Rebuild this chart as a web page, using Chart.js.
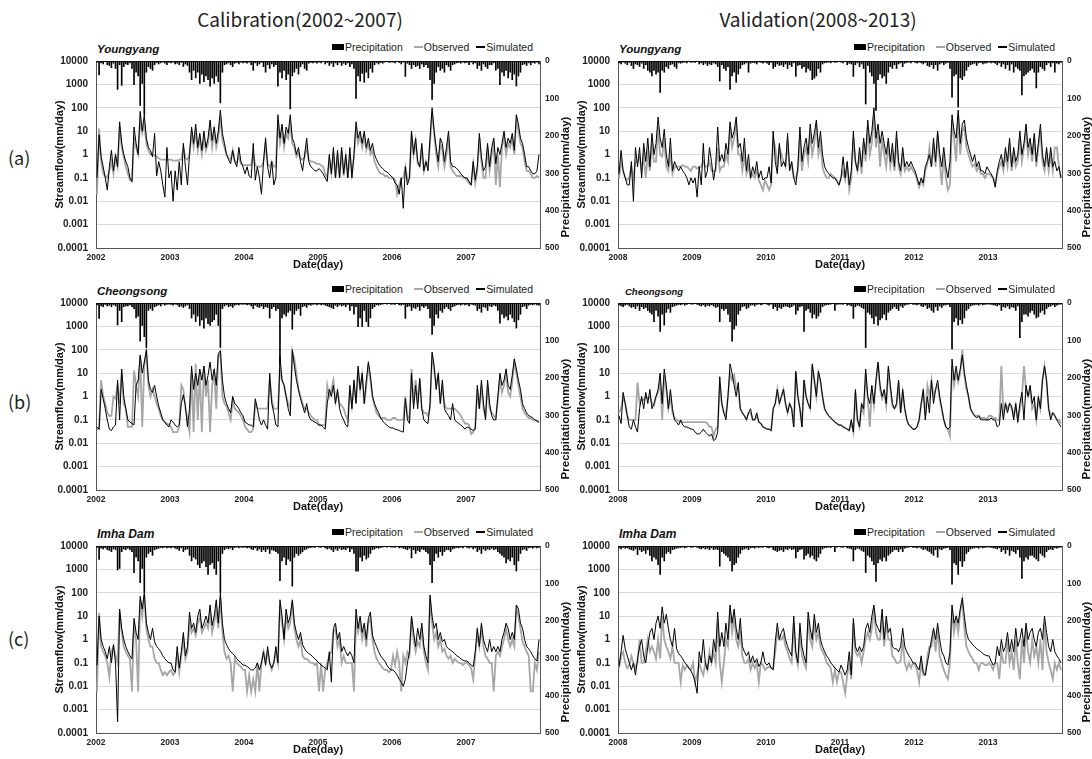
<!DOCTYPE html>
<html><head><meta charset="utf-8">
<script src="https://cdn.jsdelivr.net/npm/chart.js@4.4.1/dist/chart.umd.min.js"></script>
<style>
body{margin:0;width:1092px;height:759px;background:#fff;position:relative;overflow:hidden;font-family:"Liberation Sans",Arial,sans-serif}
.abs{position:absolute;white-space:nowrap}
.hdr{font-family:"Noto Sans CJK KR","Noto Sans",sans-serif;font-size:19px;color:#222;transform:translate(-50%,-50%)}
.lab{font-family:"Noto Sans CJK KR","Noto Sans",sans-serif;font-size:18px;color:#222;transform:translateY(-50%)}
.stn{font-weight:bold;font-style:italic;color:#111;transform:translateY(-50%)}
.leg{font-size:10.5px;color:#222;transform:translateY(-50%);display:flex;align-items:center}
.leg .box{display:inline-block;width:12px;height:6px;background:#000;margin-right:1px}
.leg .ln{display:inline-block;width:9px;margin-right:1px}
canvas{position:absolute}
</style></head><body>
<script>
// ---------- text ----------
const PERIOD_TITLES = ['Calibration(2002~2007)', 'Validation(2008~2013)'];
const ROW_LABELS = ['(a)', '(b)', '(c)'];
const STATIONS = ['Youngyang', 'Cheongsong', 'Imha Dam'];
const SERIES_NAMES = ['Precipitation', 'Observed', 'Simulated'];
const Y_TITLE = 'Streamflow(mm/day)';
const Y1_TITLE = 'Precipitation(mm/day)';
const X_TITLE = 'Date(day)';
// ---------- ticks ----------
const YEARS_CAL = [2002, 2003, 2004, 2005, 2006, 2007];
const YEARS_VAL = [2008, 2009, 2010, 2011, 2012, 2013];
const Y_TICKS = [0.0001, 0.001, 0.01, 0.1, 1, 10, 100, 1000, 10000];
const Y_LABELS = ['0.0001', '0.001', '0.01', '0.1', '1', '10', '100', '1000', '10000'];
const P_TICKS = [0, 100, 200, 300, 400, 500];

// ---------- data: one row per year, 36 ten-day values (mm/day) ----------
// Youngyang, calibration
const SIM_YY_CAL = [
[0.1,7,0.8, 0.3,0.1,0.03, 0.3,1.5,0.2, 1,0.3,25, 3,1,0.5, 0.3,0.1,0.07, 15,3,1, 70,10,50, 5,2,1.5, 0.8,8,0.12, 0.5,0.2,0.05, 0.015,2,0.1],
[0.2,0.01,0.2, 0.03,0.5,0.05, 3,0.3,0.05, 1,15,3, 20,2,8, 1.5,10,2, 5,30,4, 15,3,10, 80,8,3, 1,0.6,0.4, 1.5,0.5,0.3, 2,0.5,0.3],
[0.15,0.3,0.12, 0.1,3,0.08, 0.3,0.1,0.02, 0.5,5,0.3, 0.1,0.5,0.05, 0.1,50,5, 20,3,15, 8,50,5, 3,1,2, 0.5,0.2,1, 5,0.5,0.3, 0.25,0.2,0.2],
[0.25,0.2,0.15, 0.1,0.07,1, 0.15,2,0.1, 1.5,0.1,2, 0.15,1,0.1, 2,0.1,1, 25,5,10, 3,10,2, 5,1.5,3, 1,0.6,0.4, 0.3,0.25,0.2, 0.18,0.15,0.12],
[0.1,0.06,0.05, 0.02,0.1,0.005, 0.3,0.05,0.1, 10,1,5, 0.5,0.3,3, 0.2,0.5,0.2, 5,100,10, 2,0.5,5, 3,0.5,2, 10,0.5,0.3, 0.3,0.25,0.2, 0.15,0.12,0.1],
[0.1,0.07,0.05, 0.5,0.08,0.3, 8,0.8,0.2, 0.3,3,0.3, 2,5,0.4, 2,1,3, 10,2,5, 3,8,1.5, 50,20,5, 3,1,0.3, 0.3,0.2,0.15, 0.15,0.2,1]];
const OBS_YY_CAL = [
[0.02,13,0.5, 0.15,0.12,0.1, 0.2,0.5,0.15, 0.8,0.3,15, 2,0.8,0.3, 0.15,0.08,0.07, 5,2,1, 30,8,20, 3,1.5,1, 1,0.9,0.8, 0.7,0.6,0.6, 0.6,0.6,0.6],
[0.6,0.55,0.55, 0.55,0.6,0.6, 2,0.7,0.6, 1,8,2, 10,1.5,5, 1,5,1.5, 3,15,2, 10,2,5, 40,4,2, 1,0.7,0.6, 1.5,0.5,0.45, 0.8,0.4,0.35],
[0.35,0.35,0.35, 0.35,1,0.35, 0.3,0.3,0.3, 0.5,3,0.4, 0.3,0.5,0.3, 0.3,30,3, 10,2,8, 5,20,3, 2,0.8,1.2, 0.7,0.6,0.8, 2,0.6,0.5, 0.5,0.45,0.4],
[0.4,0.35,0.3, 0.15,0.1,0.6, 0.15,1.2,0.1, 1,0.1,1.5, 0.12,0.8,0.1, 1,0.15,0.8, 15,3,6, 2,6,1.5, 3,1,1.5, 0.5,0.3,0.2, 0.15,0.15,0.12, 0.12,0.1,0.1],
[0.1,0.08,0.02, 0.05,0.1,0.1, 0.3,0.08,0.1, 8,1,4, 0.4,0.3,2, 0.2,0.5,0.3, 3,70,8, 1,0.3,3, 1.5,0.3,1, 5,0.3,0.2, 0.15,0.12,0.12, 0.12,0.1,0.1],
[0.08,0.06,0.05, 0.4,0.06,0.2, 5,0.5,0.1, 0.1,2,0.2, 1,3,0.05, 1,0.04,2, 6,1,3, 2,5,1, 30,10,3, 2,0.5,0.2, 0.2,0.15,0.1, 0.1,0.12,0.1]];
const PRE_YY_CAL = [
[3,37,5, 8,2,10, 12,18,6, 20,76,10, 65,15,8, 10,5,20, 63,30,40, 119,60,143, 30,15,20, 25,10,5, 8,5,3, 6,10,4],
[5,3,8, 6,10,4, 15,8,12, 30,50,25, 45,30,60, 35,55,40, 50,67,45, 60,40,55, 112,30,10, 8,5,10, 15,6,4, 8,3,5],
[4,6,3, 10,25,5, 12,8,4, 15,30,10, 20,8,15, 10,67,30, 45,25,50, 35,128,40, 30,20,35, 15,8,20, 25,6,4, 5,3,6],
[3,5,2, 8,4,12, 6,15,5, 10,4,12, 6,10,5, 15,8,20, 100,40,54, 33,57,30, 45,20,30, 10,5,8, 4,6,3, 2,4,3],
[3,5,2, 4,8,3, 41,6,10, 20,10,15, 12,20,8, 15,10,18, 50,103,60, 30,15,25, 20,30,10, 15,25,10, 8,5,4, 6,3,5],
[4,10,3, 8,5,20, 12,25,8, 15,20,10, 10,5,25, 20,63,30, 40,25,45, 30,50,35, 67,40,30, 10,8,12, 5,10,4, 6,3,8]];
// Youngyang, validation
const SIM_YY_VAL = [
[0.15,1.5,0.2, 0.1,0.05,0.05, 0.5,0.01,2, 0.3,2,0.1, 3,0.5,5, 0.3,8,1, 3,40,5, 2,12,1, 0.3,5,0.2, 0.5,0.3,0.2, 0.3,0.2,0.15, 0.1,0.05,0.1],
[0.06,0.1,0.015, 0.3,0.05,3, 0.1,0.2,2, 0.5,0.08,0.3, 15,0.5,1, 0.5,3,1, 25,5,10, 40,2,3, 0.5,5,0.2, 1,0.1,0.3, 0.15,0.5,0.1, 0.2,0.08,0.1],
[0.1,0.3,0.06, 10,0.5,0.15, 3,0.3,0.5, 0.3,8,0.2, 0.5,0.1,0.05, 0.3,15,0.5, 2,5,1, 20,3,8, 30,2,10, 1,0.3,0.2, 0.15,0.12,0.1, 0.1,0.07,0.05],
[0.1,0.8,0.1, 0.5,0.05,0.2, 10,0.5,0.2, 2,0.3,5, 1,30,3, 10,100,5, 20,3,10, 3,1,5, 0.5,3,0.3, 10,0.5,0.2, 2,0.3,0.5, 0.3,0.5,0.3],
[0.2,0.1,0.05, 0.1,0.06,0.3, 0.5,1,0.3, 5,0.5,10, 1,0.3,2, 0.3,0.1,0.5, 50,10,5, 80,3,20, 30,5,2, 1,0.5,1, 0.3,0.5,0.2, 0.2,0.15,0.3],
[0.2,0.15,0.1, 0.04,0.2,0.5, 1,0.3,2, 0.5,5,0.3, 2,0.5,1, 10,1,3, 20,2,5, 1,8,0.5, 3,20,1, 0.3,2,0.3, 2,0.3,0.5, 0.2,0.3,0.1]];
const OBS_YY_VAL = [
[0.1,0.5,0.2, 0.1,0.08,0.1, 0.3,0.1,0.5, 0.5,0.8,0.2, 1,0.1,1, 0.2,3,0.5, 0.5,15,1, 0.8,5,0.3, 0.2,1,0.15, 0.3,0.3,0.3, 0.3,0.35,0.3, 0.3,0.25,0.2],
[0.3,0.3,0.25, 0.3,0.3,0.5, 0.3,0.3,0.5, 0.2,0.2,0.2, 2,0.2,0.3, 0.3,1,0.5, 15,2,5, 20,1,1, 0.2,1,0.15, 0.3,0.1,0.15, 0.1,0.2,0.08, 0.05,0.03,0.08],
[0.05,0.03,0.05, 5,2,0.3, 2,1,0.5, 0.3,4,0.3, 0.4,0.1,0.1, 0.2,5,0.2, 1,2,0.5, 8,1,3, 20,1,3, 0.3,0.15,0.1, 0.1,0.15,0.12, 0.1,0.08,0.05],
[0.1,0.2,0.08, 0.3,0.03,0.1, 5,0.5,0.2, 1,0.15,3, 0.5,15,1, 3,40,2, 10,0.3,5, 1,0.3,3, 0.3,1,0.2, 5,0.3,0.15, 1,0.2,0.3, 0.2,0.3,0.2],
[0.15,0.08,0.04, 0.08,0.05,0.2, 0.4,2,0.3, 3,0.3,8, 0.5,0.05,1, 0.1,0.03,0.05, 30,5,0.5, 50,1,10, 15,2,1, 0.5,0.3,0.4, 0.2,0.3,0.15, 0.15,0.1,0.15],
[0.15,0.12,0.1, 0.05,0.15,0.3, 0.5,0.2,1, 0.3,3,0.2, 1,0.3,0.5, 5,0.5,2, 10,1,3, 0.5,5,0.3, 2,10,0.5, 0.2,1,0.2, 1,0.2,2, 2,0.3,0.1]];
const PRE_YY_VAL = [
[5,8,3, 6,10,4, 12,20,8, 10,15,6, 20,10,25, 30,40,25, 35,30,84, 25,30,15, 20,10,8, 15,20,5, 6,4,3, 5,2,4],
[3,4,2, 8,5,10, 6,12,8, 10,5,8, 15,54,10, 20,25,15, 76,40,30, 57,35,20, 10,8,5, 30,6,4, 5,8,3, 4,6,3],
[6,10,4, 20,15,8, 12,10,15, 8,20,10, 15,5,41, 12,10,20, 15,30,20, 25,50,46, 40,20,30, 8,5,4, 3,5,2, 4,3,2],
[3,5,2, 10,6,8, 41,10,5, 15,8,20, 115,12,30, 40,60,132, 50,35,45, 40,60,30, 15,20,10, 20,8,5, 15,6,4, 3,5,2],
[4,6,3, 5,8,4, 12,15,10, 20,10,25, 8,5,10, 6,4,20, 97,40,35, 123,45,50, 40,25,15, 10,8,6, 12,5,4, 8,6,5],
[3,5,4, 6,10,5, 15,8,20, 10,25,8, 30,15,20, 25,91,40, 35,30,25, 20,30,72, 30,15,20, 25,10,5, 15,5,30, 6,8,4]];
// Cheongsong, calibration
const SIM_CS_CAL = [
[0.05,0.04,2, 0.8,0.3,0.1, 0.04,0.035,0.05, 0.06,5,0.1, 15,1,0.3, 0.1,0.08,0.07, 0.06,3,5, 60,10,30, 100,5,2, 1.5,3,1, 0.4,0.2,0.1, 0.08,0.06,0.05],
[0.1,0.08,0.06, 0.05,0.06,0.5, 1.2,0.4,0.05, 0.3,20,2, 10,3,15, 5,20,3, 8,30,5, 15,3,70, 90,5,1, 0.5,0.3,0.2, 1,0.5,0.4, 0.3,0.2,0.15],
[0.08,0.07,0.06, 0.06,0.05,0.8, 0.3,0.1,0.06, 0.1,0.06,0.04, 10,0.5,0.2, 0.06,0.05,50, 5,3,1, 0.3,0.15,100, 20,5,2, 0.8,0.4,0.2, 0.5,0.15,0.1, 0.09,0.08,0.07],
[0.06,0.06,0.05, 0.04,0.5,2, 1,3,0.5, 2,0.3,0.15, 0.1,0.06,0.05, 3,0.3,5, 0.5,20,2, 10,0.5,5, 30,8,1, 0.5,0.3,0.2, 0.12,0.09,0.07, 0.06,0.05,0.045],
[0.045,0.04,0.038, 0.035,0.032,0.03, 0.8,0.1,0.07, 10,0.3,3, 0.3,6,0.3, 0.1,0.08,0.07, 0.5,80,20, 2,10,0.5, 5,0.3,0.2, 0.15,0.1,0.5, 0.1,0.08,0.07, 0.06,0.05,0.04],
[0.05,0.045,0.04, 0.035,0.04,3, 0.3,5,0.5, 0.1,5,0.5, 0.15,0.1,0.1, 1,10,3, 5,15,3, 2,8,40, 15,5,2, 0.5,0.3,0.2, 0.15,0.14,0.12, 0.1,0.09,0.08]];
const OBS_CS_CAL = [
[0.04,0.04,5, 1,0.5,0.2, 0.15,0.15,1, 0.8,3,0.5, 10,0.5,0.3, 0.05,0.05,0.05, 13,3,1, 50,0.05,20, 80,3,1, 2,1,0.5, 0.3,0.15,0.1, 0.08,0.07,0.06],
[0.05,0.03,0.03, 0.03,0.05,3, 2,0.3,0.1, 0.03,10,0.03, 25,0.1,10, 0.03,20,1, 5,0.03,3, 10,0.3,50, 80,1,0.5, 0.4,0.2,0.1, 0.7,0.3,0.25, 0.2,0.15,0.1],
[0.05,0.04,0.03, 0.03,0.04,0.5, 0.3,0.3,0.3, 0.3,0.3,0.3, 5,0.8,0.3, 0.3,0.3,20, 5,3,1, 0.5,0.3,90, 40,10,2, 1,0.5,0.3, 0.3,0.2,0.15, 0.12,0.1,0.1],
[0.06,0.06,0.06, 0.06,3,1, 2,5,0.6, 1.5,0.5,0.4, 0.3,0.15,0.1, 2,0.4,3, 0.6,15,2, 8,0.5,3, 20,5,1, 0.4,0.2,0.15, 0.12,0.12,0.12, 0.1,0.1,0.1],
[0.12,0.12,0.1, 0.1,0.1,0.1, 1,0.15,0.1, 15,0.5,5, 0.5,5,0.3, 0.2,0.2,0.15, 0.3,60,15, 3,8,0.5, 3,0.5,0.3, 0.3,0.3,0.3, 0.3,0.25,0.2, 0.15,0.1,0.07],
[0.07,0.06,0.025, 0.03,0.05,2, 0.3,3,0.3, 0.15,3,0.3, 0.2,0.15,0.12, 0.8,5,1.5, 3,10,1.5, 1,4,30, 10,3,1, 0.3,0.2,0.15, 0.12,0.12,0.1, 0.1,0.09,0.08]];
const PRE_CS_CAL = [
[5,41,8, 10,4,8, 6,10,5, 8,59,20, 50,10,8, 8,5,10, 15,40,35, 102,60,90, 119,20,15, 20,10,8, 5,8,3, 6,4,3],
[4,6,3, 5,10,8, 12,8,5, 15,40,30, 50,35,60, 45,67,40, 55,60,50, 45,30,60, 119,15,8, 5,10,8, 12,6,4, 5,3,4],
[3,5,4, 8,15,6, 10,12,8, 15,10,12, 40,15,10, 20,15,165, 40,30,35, 25,20,70, 30,20,15, 33,10,8, 12,5,6, 4,3,5],
[3,5,4, 6,8,10, 12,15,6, 10,5,8, 6,10,4, 20,8,30, 10,63,40, 63,20,50, 63,40,15, 10,5,6, 4,3,2, 3,2,4],
[3,4,2, 5,6,4, 41,10,8, 20,12,15, 10,20,8, 12,8,15, 40,84,60, 30,40,20, 25,15,10, 15,20,10, 8,5,4, 6,3,5],
[4,8,3, 5,6,20, 15,25,10, 12,20,8, 10,6,8, 20,54,30, 40,35,45, 30,40,50, 67,45,30, 10,8,15, 6,4,5, 3,5,6]];
// Cheongsong, validation
const SIM_CS_VAL = [
[0.15,0.07,1.5, 0.5,0.15,0.05, 0.04,0.1,0.05, 0.03,0.3,1, 0.3,1.5,0.5, 2,0.3,0.5, 1,2,10, 0.5,15,3, 0.3,2,0.3, 0.1,0.08,0.06, 0.1,0.06,0.05, 0.05,0.045,0.04],
[0.04,0.03,0.025, 0.025,0.03,0.04, 0.03,0.025,0.02, 0.025,0.013,0.015, 0.03,7,0.5, 0.2,0.1,1, 25,10,3, 1,4,0.3, 0.2,0.15,0.1, 0.2,0.3,0.1, 0.1,0.2,0.08, 0.07,0.05,0.045],
[0.04,0.04,0.035, 0.3,0.5,2, 0.5,1,2, 0.5,0.2,0.5, 0.3,0.05,12, 1,0.3,0.05, 5,1,0.5, 0.3,25,5, 1,12,5, 1,0.3,0.2, 0.15,0.12,0.1, 0.08,0.07,0.06],
[0.06,0.05,0.045, 0.04,0.035,0.1, 0.03,2,0.1, 0.05,0.5,0.3, 15,1,0.5, 3,0.5,5, 30,3,1, 2,0.5,20, 3,0.5,0.3, 0.5,5,0.2, 2,0.3,0.1, 0.06,0.05,0.04],
[0.04,0.05,0.1, 0.5,2,0.1, 1,0.2,5, 0.5,2,5, 1,0.3,0.1, 0.05,0.04,0.05, 40,5,20, 5,15,60, 10,3,1, 0.3,0.2,0.15, 0.12,0.15,0.1, 0.1,0.1,0.1],
[0.1,0.12,0.1, 0.1,0.05,0.06, 0.5,0.1,0.5, 0.2,0.5,0.4, 0.1,0.5,0.08, 0.5,1.5,0.1, 3,1,3, 0.5,1,0.1, 1,0.3,5, 20,5,0.3, 0.1,0.2,0.15, 0.1,0.07,0.05]];
const OBS_CS_VAL = [
[0.2,0.3,1, 0.5,0.15,0.1, 0.1,0.1,0.1, 4,0.5,0.8, 0.7,1,0.8, 1,0.5,0.4, 1,1.5,5, 0.1,8,2, 0.3,1,0.2, 0.12,0.1,0.09, 0.08,0.08,0.08, 0.08,0.08,0.08],
[0.08,0.08,0.08, 0.08,0.08,0.08, 0.08,0.07,0.05, 0.05,0.02,0.04, 0.05,3,0.5, 0.2,0.15,1, 10,5,8, 2,2,0.3, 0.2,0.15,0.1, 0.2,0.2,0.1, 0.1,0.15,0.08, 0.07,0.05,0.045],
[0.04,0.04,0.035, 0.3,0.5,2, 0.5,1,2, 0.5,0.2,0.5, 0.3,0.05,10, 1,0.3,0.05, 5,1,0.5, 0.3,20,5, 1,10,4, 1,0.3,0.2, 0.15,0.12,0.1, 0.08,0.07,0.06],
[0.06,0.05,0.045, 0.04,0.035,0.08, 0.03,1.5,0.1, 0.05,0.4,0.2, 10,0.8,0.05, 2,0.4,4, 25,2,0.8, 1.5,0.4,15, 2,0.4,0.3, 0.4,4,0.2, 1.5,0.3,0.1, 0.06,0.05,0.04],
[0.04,0.05,0.1, 0.5,1.5,0.15, 3,1,5, 1,2,3, 0.8,0.3,0.1, 0.05,0.04,0.02, 20,3,10, 4,10,100, 8,2,1, 0.3,0.2,0.15, 0.15,0.15,0.12, 0.12,0.12,0.1],
[0.15,0.15,0.12, 0.12,0.1,0.1, 20,0.2,0.5, 0.3,0.5,0.3, 0.15,0.4,0.1, 0.3,1,20, 2,1,2, 0.3,0.5,0.1, 0.8,0.3,5, 20,4,0.3, 0.15,0.2,0.15, 0.1,0.1,0.07]];
const PRE_CS_VAL = [
[5,8,10, 6,4,8, 12,10,15, 8,20,10, 15,12,20, 25,30,50, 20,35,76, 30,59,25, 15,25,10, 8,6,4, 5,3,6, 4,2,3],
[3,2,4, 6,8,5, 10,6,8, 5,8,12, 10,50,15, 20,15,30, 50,102,70, 60,30,20, 10,8,15, 12,6,5, 8,4,3, 5,3,2],
[4,6,3, 15,10,20, 12,15,10, 8,10,12, 10,6,30, 20,10,8, 76,20,15, 25,40,30, 41,35,25, 10,6,5, 4,3,2, 20,4,3],
[3,4,2, 6,5,8, 41,10,6, 8,12,15, 119,25,30, 40,55,35, 59,45,40, 30,45,25, 20,15,10, 15,20,8, 12,6,4, 3,2,4],
[4,5,3, 8,10,6, 15,12,20, 25,10,20, 8,12,6, 5,4,10, 123,50,40, 59,45,55, 40,20,15, 8,6,5, 4,6,3, 5,4,3],
[3,4,5, 6,8,5, 20,10,12, 8,15,10, 12,20,8, 93,50,30, 30,35,25, 20,30,40, 37,25,20, 30,15,10, 8,5,10, 6,4,3]];
// Imha Dam, calibration
const SIM_IM_CAL = [
[0.08,10,1, 0.5,0.3,0.15, 0.5,0.1,0.6, 0.1,0.0003,20, 3,1,0.5, 0.3,0.2,0.15, 8,2,1, 70,20,100, 5,2,1, 3,0.8,0.5, 0.4,0.3,0.2, 0.15,0.12,0.1],
[0.1,0.05,0.04, 0.5,0.06,0.3, 2,0.2,0.5, 15,3,5, 2,10,20, 3,5,10, 5,30,4, 10,50,5, 100,5,1, 0.6,0.4,0.3, 0.25,0.2,0.15, 0.12,0.1,0.08],
[0.08,0.07,0.06, 0.05,0.05,0.06, 0.1,0.05,0.1, 0.3,0.08,0.5, 0.1,0.06,0.1, 0.5,0.1,50, 10,1,20, 5,10,50, 5,2,1, 2,0.6,0.4, 0.3,0.25,0.22, 0.18,0.15,0.12],
[0.1,0.08,0.07, 0.06,0.05,0.3, 0.015,3,5, 1,2,0.3, 0.5,0.3,0.2, 0.3,0.2,0.1, 20,3,10, 2,5,1, 8,15,1.5, 0.8,0.5,0.3, 0.2,0.15,0.12, 0.08,0.06,0.05],
[0.05,0.04,0.03, 0.02,0.015,0.01, 0.02,0.1,0.3, 10,2,0.5, 3,1,5, 0.5,0.2,0.1, 80,10,3, 5,1,2, 0.8,1,0.5, 0.4,0.35,0.3, 0.25,0.2,0.18, 0.15,0.13,0.12],
[0.12,0.1,0.08, 0.07,0.3,3, 0.5,5,1, 0.5,0.3,1, 0.3,0.5,0.3, 0.5,0.3,1, 2,5,3, 1,2,1, 30,20,5, 3,1,0.5, 0.4,0.3,0.2, 0.15,0.12,1]];
const OBS_IM_CAL = [
[0.006,14,0.5, 0.3,0.2,0.1, 0.025,0.3,0.5, 0.2,0.1,15, 2,0.5,0.3, 0.2,0.15,0.006, 5,1,0.006, 50,10,80, 3,1,0.5, 0.5,0.15,0.1, 0.1,0.05,0.03, 0.04,0.03,0.04],
[0.05,0.03,0.04, 0.3,0.04,0.2, 1,0.15,0.3, 5,2,3, 1.5,5,10, 2,3,5, 3,15,2, 5,20,3, 60,2,0.3, 0.15,0.2,0.1, 0.006,0.15,0.1, 0.08,0.07,0.05],
[0.05,0.006,0.03, 0.006,0.02,0.006, 0.1,0.006,0.1, 0.3,0.1,0.3, 0.1,0.05,0.1, 0.3,0.1,30, 5,1,10, 3,5,40, 3,1,0.5, 1,0.2,0.15, 0.15,0.12,0.1, 0.1,0.08,0.1],
[0.006,0.1,0.006, 0.05,0.1,0.2, 0.3,2,3, 0.5,1,0.1, 0.2,0.1,0.1, 0.1,0.1,0.006, 10,2,5, 1,3,0.5, 5,8,1, 0.3,0.15,0.1, 0.08,0.06,0.05, 0.05,0.04,0.05],
[0.2,0.08,0.3, 0.1,0.006,0.2, 0.1,0.3,0.2, 8,1,0.3, 0.8,0.5,3, 0.3,0.1,0.05, 60,5,1, 2,0.5,1, 0.3,0.4,0.2, 0.15,0.2,0.1, 0.15,0.12,0.1, 0.1,0.08,0.1],
[0.1,0.08,0.06, 0.02,0.2,2, 0.5,3,0.5, 0.2,0.15,0.1, 0.1,0.006,0.2, 0.3,0.2,0.5, 1,3,1, 0.5,1,0.5, 20,10,3, 0.8,0.5,0.3, 0.2,0.006,0.006, 0.1,0.05,0.3]];
const PRE_IM_CAL = [
[4,36,6, 8,5,10, 12,15,8, 10,64,60, 15,8,10, 6,10,15, 71,30,40, 98,60,124, 30,20,15, 25,10,8, 6,4,5, 3,5,4],
[5,3,6, 8,12,5, 15,10,8, 25,40,30, 35,50,58, 45,40,55, 76,50,45, 60,76,40, 124,20,10, 6,8,5, 10,4,3, 5,3,4],
[3,5,4, 8,10,5, 12,8,15, 10,15,8, 20,10,12, 15,20,93, 40,30,50, 35,40,107, 30,20,25, 20,15,10, 8,5,4, 3,4,2],
[3,4,2, 5,8,6, 10,15,8, 12,6,10, 8,10,5, 15,8,20, 67,67,30, 40,25,35, 30,20,10, 8,5,6, 4,3,2, 3,2,3],
[3,4,2, 5,4,6, 8,10,6, 32,10,20, 12,15,8, 10,15,20, 50,98,40, 20,30,15, 25,15,10, 10,15,8, 6,4,5, 3,5,2],
[4,6,3, 8,5,15, 10,20,8, 12,8,10, 6,10,8, 15,20,25, 30,45,35, 40,30,50, 67,40,20, 10,8,12, 5,4,6, 3,5,4]];
// Imha Dam, validation
const SIM_IM_VAL = [
[0.07,0.3,1.5, 0.4,0.2,0.1, 0.05,0.1,0.03, 0.15,0.5,1, 0.2,0.1,0.5, 2,3,1, 5,10,3, 25,5,12, 3,1,0.5, 3,0.4,0.25, 0.2,0.15,0.1, 0.08,0.06,0.045],
[0.03,0.015,0.005, 0.3,0.1,1, 0.1,0.05,0.2, 0.1,1,0.3, 15,0.5,2, 0.5,5,1, 30,5,20, 3,1,8, 0.5,0.3,0.2, 0.3,0.1,0.2, 0.1,0.15,0.07, 0.1,0.3,0.1],
[0.08,0.1,0.06, 0.05,0.8,5, 1,2,3, 1,0.5,0.3, 0.2,10,0.3, 0.1,5,0.5, 0.2,0.1,15, 3,1,12, 2,5,1, 0.5,0.3,0.2, 0.15,0.1,0.08, 0.06,0.05,0.04],
[0.08,0.05,0.03, 0.05,0.3,0.03, 8,0.5,0.3, 0.5,0.3,0.5, 3,5,2, 10,30,5, 3,2,20, 1,10,2, 3,0.5,0.4, 0.4,0.3,0.5, 3,0.5,0.3, 0.2,0.15,0.1],
[0.1,0.07,0.05, 0.2,0.04,0.03, 0.1,0.3,1, 3,1,5, 1,0.3,0.2, 0.1,0.08,0.3, 30,5,10, 5,20,60, 10,2,1, 0.8,0.6,0.5, 0.4,0.35,0.3, 0.25,0.22,0.2],
[0.2,0.12,0.08, 0.1,0.5,0.2, 1,0.3,0.5, 2,0.3,1, 0.3,3,0.5, 1,3,0.5, 5,1,2, 3,1,0.5, 2,3,1, 10,2,0.5, 0.3,1,0.3, 0.2,0.15,0.1]];
const OBS_IM_VAL = [
[0.06,0.2,0.3, 0.1,0.06,0.08, 0.2,0.1,0.06, 0.1,1,0.1, 0.1,0.3,1, 0.3,0.5,0.3, 0.15,1,0.15, 10,1,0.5, 0.3,0.15,0.5, 0.1,0.1,0.1, 0.015,0.08,0.05, 0.08,0.06,0.05],
[0.1,0.015,0.03, 0.1,0.05,0.03, 0.1,0.05,0.3, 0.1,0.3,0.1, 5,0.1,0.015, 0.1,1,0.5, 20,2,10, 1,0.5,2, 0.2,0.1,0.1, 0.15,0.05,0.1, 0.06,0.1,0.015, 0.1,0.08,0.05],
[0.06,0.07,0.06, 0.06,0.3,2, 1,1,1.5, 0.5,0.3,0.15, 0.1,5,0.2, 0.08,2,0.2, 0.1,0.06,8, 1,0.5,5, 1,2,0.5, 0.3,0.2,0.1, 0.08,0.06,0.015, 0.05,0.015,0.04],
[0.04,0.015,0.005, 0.03,0.1,0.02, 5,0.3,0.2, 0.3,0.1,0.3, 1,2,1, 3,20,2, 1,1,10, 0.5,5,1, 1,0.2,0.15, 0.1,0.1,0.12, 1,0.1,0.05, 0.1,0.06,0.1],
[0.08,0.05,0.015, 0.1,0.03,0.03, 0.2,0.5,0.5, 2,0.3,3, 0.2,0.1,0.05, 0.03,0.02,0.1, 20,2,8, 2,15,50, 3,0.5,0.3, 0.2,0.15,0.1, 0.1,0.05,0.1, 0.1,0.08,0.08],
[0.1,0.08,0.05, 0.1,0.1,0.02, 0.3,0.1,0.1, 1,0.1,0.3, 0.05,1,0.1, 0.02,1,0.1, 3,0.3,0.1, 1,0.2,0.5, 0.1,1,0.05, 5,0.3,0.1, 0.05,0.02,0.1, 0.05,0.1,0.05]];
const PRE_IM_VAL = [
[5,8,4, 6,5,8, 10,12,8, 23,10,15, 12,20,10, 25,40,30, 35,50,76, 30,40,20, 15,20,10, 8,6,5, 4,3,5, 3,2,4],
[3,2,4, 6,8,5, 8,6,10, 5,10,8, 10,54,15, 20,25,30, 40,67,50, 45,30,20, 10,8,6, 10,5,4, 6,3,4, 3,4,2],
[4,5,3, 10,12,15, 12,10,15, 8,10,6, 10,8,32, 15,10,8, 35,25,20, 30,25,35, 40,30,20, 8,5,4, 3,4,2, 15,3,2],
[3,4,2, 5,6,8, 40,10,6, 8,12,15, 71,25,30, 40,50,95, 45,35,40, 30,40,25, 20,15,10, 10,15,8, 15,6,4, 3,2,4],
[4,5,3, 6,10,8, 12,15,20, 25,10,30, 8,10,6, 5,4,10, 102,45,50, 76,40,55, 40,20,15, 8,6,5, 4,6,3, 5,4,3],
[3,4,5, 6,8,5, 15,10,20, 10,25,12, 15,20,10, 30,87,40, 30,35,25, 25,30,35, 40,20,25, 30,15,10, 8,10,5, 6,4,3]];

// ---------- layout (positions only) ----------
const PLOT_TOP = [55, 297, 540];
const PLOT_H = 193;
const PLOT_LEFT = [96, 618];
const PLOT_W = 444;
const LEFT_AXIS_W = 56;
const RIGHT_AXIS_W = [45, 30];
const TOP_PAD = 8, BOTTOM_AXIS_H = 24;

const PANELS = [
  {row:0, col:0, years:YEARS_CAL, sim:SIM_YY_CAL, obs:OBS_YY_CAL, pre:PRE_YY_CAL},
  {row:0, col:1, years:YEARS_VAL, sim:SIM_YY_VAL, obs:OBS_YY_VAL, pre:PRE_YY_VAL},
  {row:1, col:0, years:YEARS_CAL, sim:SIM_CS_CAL, obs:OBS_CS_CAL, pre:PRE_CS_CAL},
  {row:1, col:1, years:YEARS_VAL, sim:SIM_CS_VAL, obs:OBS_CS_VAL, pre:PRE_CS_VAL},
  {row:2, col:0, years:YEARS_CAL, sim:SIM_IM_CAL, obs:OBS_IM_CAL, pre:PRE_IM_CAL},
  {row:2, col:1, years:YEARS_VAL, sim:SIM_IM_VAL, obs:OBS_IM_VAL, pre:PRE_IM_VAL}
];

function addDiv(cls, text, css) {
  const d = document.createElement('div');
  d.className = 'abs ' + cls;
  if (text !== null) d.textContent = text;
  Object.assign(d.style, css);
  document.body.appendChild(d);
  return d;
}

// headers and row labels
addDiv('hdr', PERIOD_TITLES[0], {left: '300px', top: '18px'});
addDiv('hdr', PERIOD_TITLES[1], {left: '818px', top: '18px'});
const ROW_LABEL_Y = [157, 401, 638];
ROW_LABELS.forEach((t, i) => addDiv('lab', t, {left: '8px', top: ROW_LABEL_Y[i] + 'px'}));

function addLegend(x, y) {
  const d = addDiv('leg', null, {left: x + 'px', top: y + 'px'});
  d.innerHTML =
    '<span class="box"></span><span>' + SERIES_NAMES[0] + '</span>' +
    '<span class="ln" style="margin-left:11px;height:2px;background:#a6a6a6"></span><span>' + SERIES_NAMES[1] + '</span>' +
    '<span class="ln" style="margin-left:7px;height:1.5px;background:#000"></span><span>' + SERIES_NAMES[2] + '</span>';
}

const rightTitle = {
  id: 'rightTitle',
  afterDraw(chart, args, opts) {
    const {ctx, chartArea} = chart;
    ctx.save();
    ctx.font = 'bold 11.5px "Liberation Sans", Arial, sans-serif';
    ctx.fillStyle = '#111';
    ctx.textAlign = 'center';
    ctx.textBaseline = 'middle';
    ctx.translate(chartArea.right + opts.dx, chartArea.top + opts.dy);
    ctx.rotate(-Math.PI / 2);
    ctx.fillText(opts.text, 0, 0);
    ctx.restore();
  }
};
Chart.register(rightTitle);
Chart.defaults.font.family = '"Liberation Sans", Arial, sans-serif';

function toPts(rows, y0) {
  return rows.flatMap((row, yi) => row.map((v, i) => ({x: y0 + yi + (i + 0.5) / row.length, y: v})));
}

PANELS.forEach(p => {
  const top = PLOT_TOP[p.row];
  const left = PLOT_LEFT[p.col];
  const y0 = p.years[0];
  const stSmall = (p.row === 1 && p.col === 1);
  addDiv('stn', STATIONS[p.row], {
    left: (left + (stSmall ? 7 : 1)) + 'px', top: (top - 6) + 'px',
    fontSize: (p.row === 2 ? 12 : (stSmall ? 9.5 : 11.5)) + 'px'
  });
  addLegend(left + 236, top - 8);

  const cv = document.createElement('canvas');
  const cw = LEFT_AXIS_W + PLOT_W + RIGHT_AXIS_W[p.col];
  const ch = TOP_PAD + PLOT_H + BOTTOM_AXIS_H;
  cv.width = cw; cv.height = ch;
  cv.style.left = (left - LEFT_AXIS_W) + 'px';
  cv.style.top = (top - TOP_PAD) + 'px';
  document.body.appendChild(cv);

  new Chart(cv, {
    type: 'line',
    data: {
      datasets: [
        {label: SERIES_NAMES[2], data: toPts(p.sim, y0), borderColor: '#000', borderWidth: 1,
         pointRadius: 0, tension: 0, fill: false, yAxisID: 'y', order: 0},
        {type: 'bar', label: SERIES_NAMES[0], data: toPts(p.pre, y0), backgroundColor: '#000',
         borderWidth: 0, barThickness: 1, yAxisID: 'y1', order: 1},
        {label: SERIES_NAMES[1], data: toPts(p.obs, y0), borderColor: '#a6a6a6', borderWidth: 1.8,
         pointRadius: 0, tension: 0, fill: false, yAxisID: 'y', order: 2}
      ]
    },
    options: {
      responsive: false, animation: false, devicePixelRatio: 1,
      layout: {padding: {top: TOP_PAD, left: 0, right: 0, bottom: 0}},
      plugins: {
        legend: {display: false}, tooltip: {enabled: false},
        rightTitle: {text: Y1_TITLE, dx: p.col === 0 ? 26 : 25, dy: 116}
      },
      scales: {
        x: {
          type: 'linear', min: y0, max: y0 + 6, offset: false,
          afterBuildTicks: s => { s.ticks = p.years.map(v => ({value: v})); },
          ticks: {autoSkip: false, maxRotation: 0, padding: 5, color: '#222',
                  font: {size: 8.5, weight: 'bold'}, callback: v => String(v)},
          grid: {display: false, drawTicks: false},
          border: {display: true, color: '#555', width: 1},
          title: {display: true, text: X_TITLE, color: '#111', padding: 0,
                  font: {size: 11, weight: 'bold'}},
          afterFit: s => { s.height = BOTTOM_AXIS_H; }
        },
        y: {
          type: 'logarithmic', position: 'left', min: 0.0001, max: 10000,
          afterBuildTicks: s => { s.ticks = Y_TICKS.map(v => ({value: v})); },
          ticks: {autoSkip: false, padding: 8, color: '#222', font: {size: 10, weight: 'bold'},
                  callback: v => Y_LABELS[Y_TICKS.indexOf(v)]},
          grid: {drawTicks: false, lineWidth: 1,
                 color: c => (c.tick && c.tick.value === 10000) ? '#222' : '#d9d9d9'},
          border: {display: true, color: '#555', width: 1},
          title: {display: true, text: Y_TITLE, color: '#111', padding: {top: 13.4, bottom: 0},
                  font: {size: 11, weight: 'bold'}},
          afterFit: s => { s.width = LEFT_AXIS_W; }
        },
        y1: {
          type: 'linear', position: 'right', min: 0, max: 500, reverse: true,
          afterBuildTicks: s => { s.ticks = P_TICKS.map(v => ({value: v})); },
          ticks: {autoSkip: false, padding: 5, color: '#222', font: {size: 8.5, weight: 'bold'}},
          grid: {drawOnChartArea: false, drawTicks: false},
          border: {display: true, color: '#555', width: 1},
          afterFit: s => { s.width = RIGHT_AXIS_W[p.col]; }
        }
      }
    }
  });
});
</script>
</body></html>
